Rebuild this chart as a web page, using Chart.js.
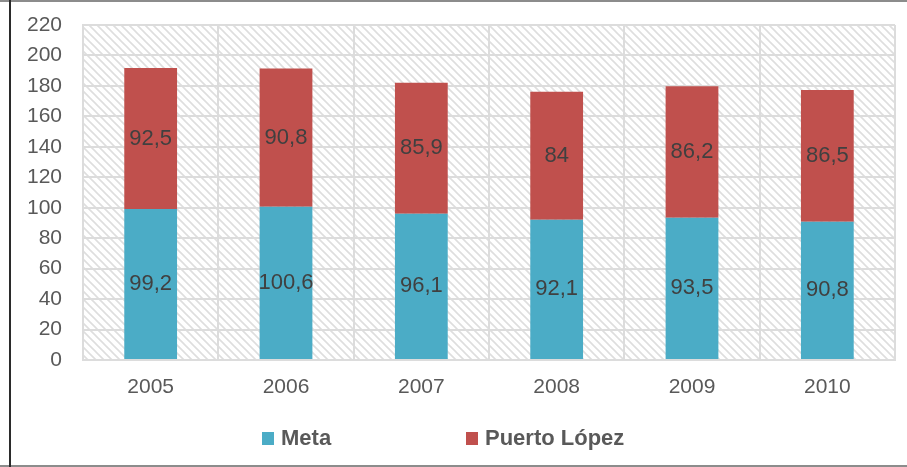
<!DOCTYPE html>
<html>
<head>
<meta charset="utf-8">
<script src="https://cdn.jsdelivr.net/npm/chart.js@4/dist/chart.umd.min.js"></script>
<style>
html,body{margin:0;padding:0;background:#fff;}
#wrap{width:907px;height:467px;position:relative;}
</style>
</head>
<body>
<div id="wrap"><canvas id="c" width="907" height="467"></canvas></div>
<script>
const years = ['2005','2006','2007','2008','2009','2010'];
const metaValues = [99.2, 100.6, 96.1, 92.1, 93.5, 90.8];
const puertoLopezValues = [92.5, 90.8, 85.9, 84, 86.2, 86.5];
const seriesNames = ['Meta', 'Puerto López'];
const yTicks = [0,20,40,60,80,100,120,140,160,180,200,220];

const FONT = "'Liberation Sans', Arial, sans-serif";

function makePattern(ctx){
  const p = document.createElement('canvas');
  p.width = 8; p.height = 8;
  const g = p.getContext('2d');
  g.fillStyle = '#ffffff';
  g.fillRect(0,0,8,8);
  g.strokeStyle = '#dedede';
  g.lineWidth = 1.6;
  g.beginPath();
  g.moveTo(-1,-1); g.lineTo(9,9);
  g.moveTo(-1,7); g.lineTo(1,9);
  g.moveTo(7,-1); g.lineTo(9,1);
  g.stroke();
  return ctx.createPattern(p,'repeat');
}

const framePlugin = {
  id: 'frame',
  beforeDraw(chart){
    const ctx = chart.ctx;
    const a = chart.chartArea;
    ctx.save();
    ctx.fillStyle = '#ffffff';
    ctx.fillRect(0,0,chart.width,chart.height);
    ctx.fillStyle = makePattern(ctx);
    ctx.fillRect(a.left, a.top, a.right - a.left, a.bottom - a.top);
    ctx.fillStyle = '#8c8c8c';
    ctx.fillRect(0,0,chart.width,2);
    ctx.fillRect(0,chart.height-2,chart.width,2);
    ctx.fillStyle = '#2b2b2b';
    ctx.fillRect(9,0,2,chart.height);
    ctx.restore();
  }
};

const labelPlugin = {
  id: 'segLabels',
  afterDatasetsDraw(chart){
    const ctx = chart.ctx;
    ctx.save();
    ctx.font = "22px " + FONT;
    ctx.fillStyle = '#404040';
    ctx.textAlign = 'center';
    ctx.textBaseline = 'middle';
    chart.data.datasets.forEach((ds, i) => {
      const meta = chart.getDatasetMeta(i);
      meta.data.forEach((bar, j) => {
        const v = ds.data[j];
        const txt = String(v).replace('.', ',');
        const y = (bar.y + bar.base) / 2;
        ctx.fillText(txt, bar.x, y);
      });
    });
    ctx.restore();
  }
};

const legendPlugin = {
  id: 'customLegend',
  afterDraw(chart){
    const ctx = chart.ctx;
    ctx.save();
    ctx.font = "bold 22px " + FONT;
    ctx.textBaseline = 'middle';
    ctx.textAlign = 'left';
    const y = 438;
    const positions = [262, 466];
    chart.data.datasets.forEach((ds, i) => {
      const x = positions[i];
      ctx.fillStyle = ds.backgroundColor;
      ctx.fillRect(x, y - 6, 12, 13);
      ctx.fillStyle = '#595959';
      ctx.fillText(ds.label, x + 19, y + 1);
    });
    ctx.restore();
  }
};

new Chart(document.getElementById('c'), {
  type: 'bar',
  data: {
    labels: years,
    datasets: [
      { label: seriesNames[0], data: metaValues, backgroundColor: '#4bacc6' },
      { label: seriesNames[1], data: puertoLopezValues, backgroundColor: '#c0504d' }
    ]
  },
  options: {
    responsive: false,
    animation: false,
    devicePixelRatio: 1,
    layout: { padding: { top: 25, right: 12, bottom: 57, left: 0 } },
    datasets: { bar: { categoryPercentage: 1.0, barPercentage: 0.39 } },
    plugins: { legend: { display: false }, tooltip: { enabled: false } },
    scales: {
      x: {
        stacked: true,
        grid: { color: '#dcdcdc', lineWidth: 2, drawTicks: false, offset: true },
        border: { color: '#dcdcdc', width: 2 },
        ticks: { color: '#595959', font: { family: FONT, size: 21 }, padding: 15 },
        afterFit(s){ s.height = 50; s.paddingLeft = 0; s.paddingRight = 0; }
      },
      y: {
        stacked: true,
        min: 0, max: 220,
        afterBuildTicks(s){ s.ticks = yTicks.map(v => ({ value: v })); },
        grid: { color: '#dcdcdc', lineWidth: 2, drawTicks: false },
        border: { color: '#dcdcdc', width: 2 },
        ticks: { color: '#595959', font: { family: FONT, size: 21 }, padding: 21 },
        afterFit(s){ s.width = 83; s.paddingTop = 0; s.paddingBottom = 0; }
      }
    }
  },
  plugins: [framePlugin, labelPlugin, legendPlugin]
});
</script>
</body>
</html>
